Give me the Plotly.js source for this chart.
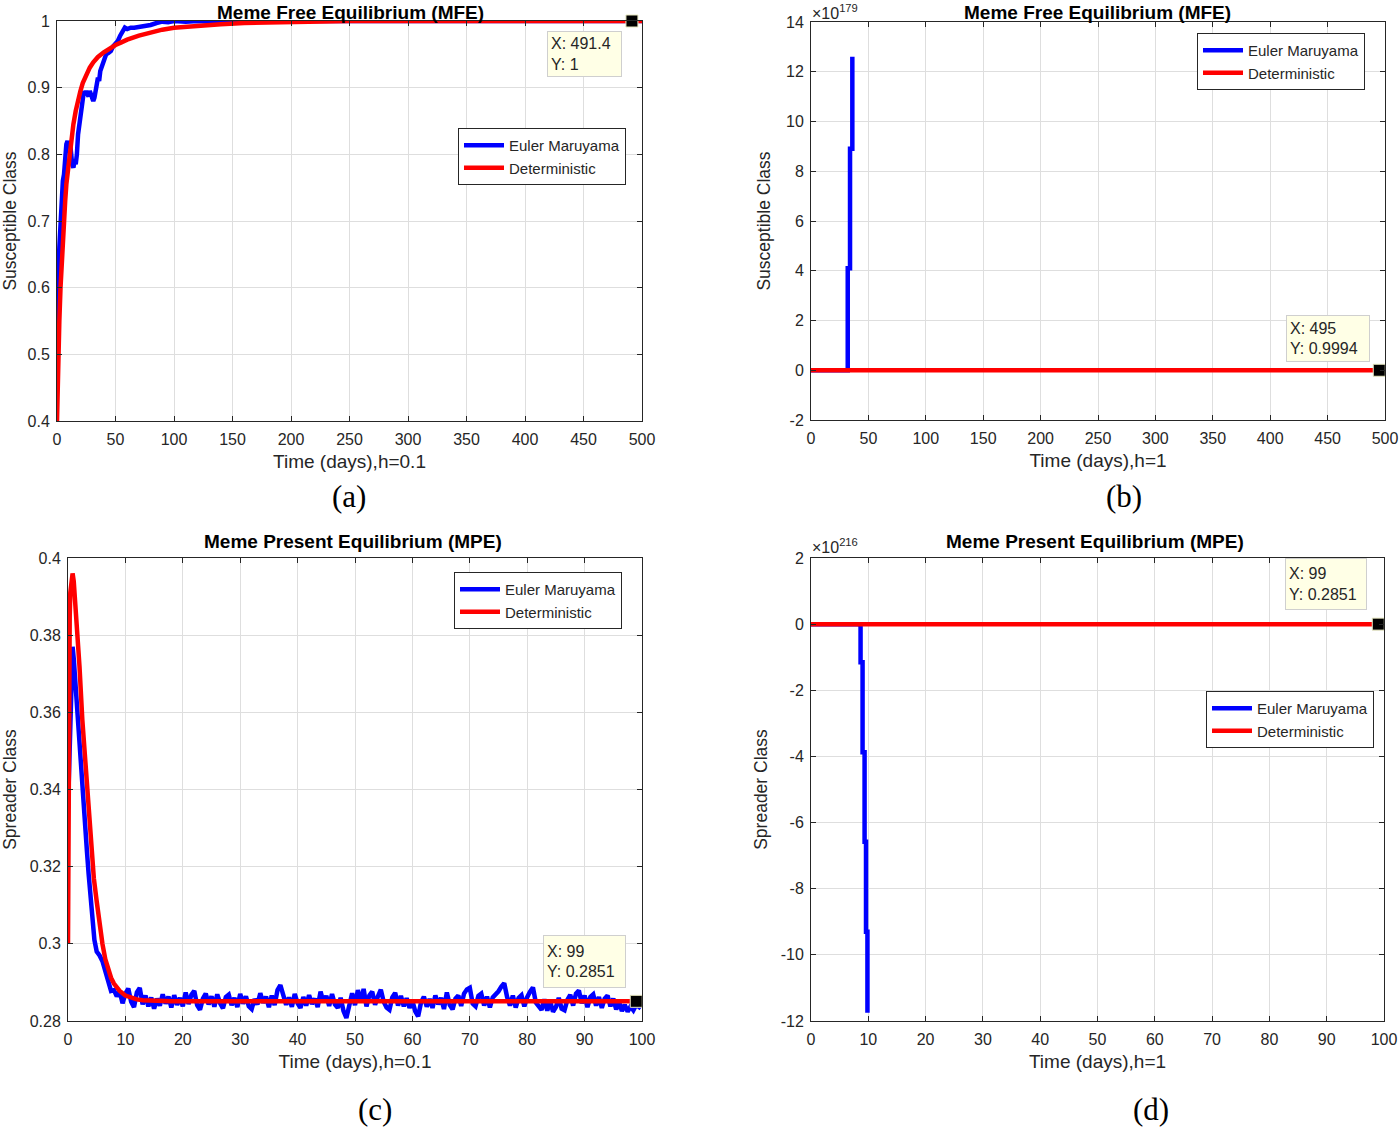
<!DOCTYPE html>
<html>
<head>
<meta charset="utf-8">
<script src="https://cdn.plot.ly/plotly-3.0.1.min.js"></script>
<style>
  html, body { margin: 0; padding: 0; background: #ffffff; }
  #chart { width: 1399px; height: 1128px; }
</style>
</head>
<body>
<div id="chart"></div>
<script>
// ---------------- DATA ----------------
// (a) Meme Free Equilibrium, h = 0.1 (Susceptible class)
const aTimeEM = [0, 0.3, 0.6, 1, 1.5, 2, 2.5, 3, 3.5, 4, 5, 6, 7, 8, 9, 10, 11, 12, 13, 14, 15, 16, 17, 18, 19, 20, 21, 22, 23, 24, 25, 26, 27, 28, 29, 30, 31, 32, 33, 34, 35, 36, 37, 38, 39, 40, 42, 44, 46, 48, 50, 52, 54, 56, 58, 60, 63, 66, 70, 75, 80, 85, 90, 95, 100, 110, 120, 130, 140, 150, 170, 200, 250, 300, 400, 500];
const aSusEM = [0.455, 0.52, 0.56, 0.6, 0.64, 0.66, 0.68, 0.70, 0.73, 0.74, 0.76, 0.77, 0.80, 0.815, 0.82, 0.81, 0.82, 0.80, 0.785, 0.78, 0.79, 0.785, 0.80, 0.83, 0.845, 0.86, 0.875, 0.89, 0.895, 0.89, 0.895, 0.89, 0.887, 0.895, 0.888, 0.882, 0.88, 0.885, 0.90, 0.905, 0.915, 0.91, 0.925, 0.93, 0.935, 0.945, 0.95, 0.952, 0.955, 0.962, 0.965, 0.97, 0.978, 0.985, 0.99, 0.988, 0.99, 0.99, 0.991, 0.992, 0.994, 0.997, 0.999, 0.998, 1.0, 0.999, 1.0, 0.999, 1.0, 1.0, 1.0, 1.0, 1.0, 1.0, 1.0, 1.0];
const aTimeDet = [0, 0.5, 1, 2, 3, 4, 5, 6, 7, 8, 10, 12, 14, 16, 18, 20, 22, 25, 28, 31, 35, 40, 45, 50, 55, 60, 70, 80, 90, 100, 120, 140, 160, 180, 200, 250, 300, 400, 500];
const aSusDet = [0.4, 0.46, 0.5, 0.55, 0.6, 0.64, 0.68, 0.71, 0.73, 0.755, 0.79, 0.82, 0.845, 0.865, 0.882, 0.895, 0.907, 0.92, 0.93, 0.938, 0.946, 0.953, 0.959, 0.964, 0.968, 0.972, 0.978, 0.983, 0.987, 0.99, 0.993, 0.995, 0.997, 0.998, 0.999, 1.0, 1.0, 1.0, 1.0];

// (b) Meme Free Equilibrium, h = 1 (Euler Maruyama blows up)
const bTimeEM = [0, 5, 10, 15, 20, 25, 30, 32, 34, 36];
const bSusEM = [0.45, 0.76, 0.81, 0.80, 0.86, 0.90, 0.88, 4.1e179, 8.9e179, 12.6e179];
const bTimeDet = [0, 5, 10, 20, 30, 50, 100, 200, 300, 495];
const bSusDet = [0.4, 0.68, 0.79, 0.895, 0.937, 0.964, 0.99, 0.999, 1.0, 0.9994];
const bExponent = 179;

// (c) Meme Present Equilibrium, h = 0.1 (Spreader class)
const cTimeEMStart = [0, 0.2, 0.4, 0.6, 0.8, 1.0, 1.3, 1.6, 2.0, 2.3, 2.6, 3.0, 3.3, 3.6, 4.0, 4.3, 4.6, 5.0, 5.5, 6.0, 6.5, 7.0, 7.5];
const cSprEMStart = [0.335, 0.345, 0.360, 0.371, 0.377, 0.374, 0.367, 0.361, 0.352, 0.345, 0.339, 0.330, 0.324, 0.318, 0.311, 0.305, 0.301, 0.298, 0.297, 0.2955, 0.293, 0.2895, 0.2878];
// steady-state fluctuation, sampled every 0.5 day from t = 8
const cNoiseStart = 8, cNoiseStep = 0.5;
const cSprEMNoise = [
  0.2880, 0.2864, 0.2877, 0.2846, 0.2871, 0.2884, 0.2850, 0.2836, 0.2874, 0.2886,
  0.2843, 0.2866, 0.2838, 0.2861, 0.2832, 0.2858, 0.2840, 0.2869, 0.2845, 0.2863,
  0.2835, 0.2867, 0.2842, 0.2860, 0.2838, 0.2874, 0.2844, 0.2868, 0.2878, 0.2841,
  0.2829, 0.2858, 0.2871, 0.2843, 0.2864, 0.2837, 0.2869, 0.2846, 0.2833, 0.2862,
  0.2868, 0.2841, 0.2860, 0.2836, 0.2870, 0.2845, 0.2864, 0.2838, 0.2831, 0.2857,
  0.2843, 0.2872, 0.2847, 0.2863, 0.2836, 0.2866, 0.2841, 0.2880, 0.2893, 0.2868,
  0.2842, 0.2861, 0.2837, 0.2870, 0.2846, 0.2834, 0.2862, 0.2840, 0.2867, 0.2844,
  0.2858, 0.2836, 0.2876, 0.2849, 0.2865, 0.2839, 0.2870, 0.2843, 0.2834, 0.2860,
  0.2826, 0.2808, 0.2846, 0.2872, 0.2841, 0.2880, 0.2848, 0.2883, 0.2838, 0.2866,
  0.2876, 0.2842, 0.2864, 0.2881, 0.2850, 0.2835, 0.2829, 0.2861, 0.2873, 0.2840,
  0.2865, 0.2838, 0.2859, 0.2834, 0.2852, 0.2825, 0.2812, 0.2848, 0.2863, 0.2837,
  0.2857, 0.2834, 0.2866, 0.2843, 0.2860, 0.2831, 0.2874, 0.2842, 0.2830, 0.2858,
  0.2866, 0.2839, 0.2871, 0.2882, 0.2886, 0.2845, 0.2838, 0.2865, 0.2871, 0.2840,
  0.2863, 0.2835, 0.2861, 0.2868, 0.2877, 0.2889, 0.2898, 0.2862, 0.2840, 0.2866,
  0.2835, 0.2860, 0.2867, 0.2838, 0.2862, 0.2876, 0.2887, 0.2848, 0.2838, 0.2829,
  0.2856, 0.2827, 0.2851, 0.2824, 0.2836, 0.2860, 0.2832, 0.2828, 0.2855, 0.2868,
  0.2840, 0.2871, 0.2879, 0.2846, 0.2866, 0.2836, 0.2862, 0.2869, 0.2840, 0.2862,
  0.2834, 0.2858, 0.2866, 0.2838, 0.2858, 0.2830, 0.2850, 0.2826, 0.2842, 0.2824,
  0.2838, 0.2828, 0.2842, 0.2836, 0.2846
];
const cTimeDet = [0, 0.1, 0.2, 0.3, 0.4, 0.6, 0.8, 1.0, 1.2, 1.5, 2, 2.5, 3, 3.5, 4, 4.5, 5, 5.5, 6, 6.5, 7, 7.5, 8, 9, 10, 11, 12, 13, 14, 15, 16, 18, 20, 30, 50, 70, 99];
const cSprDet = [0.300, 0.345, 0.372, 0.385, 0.391, 0.395, 0.396, 0.394, 0.390, 0.384, 0.372, 0.358, 0.347, 0.335, 0.325, 0.317, 0.311, 0.305, 0.300, 0.2960, 0.2932, 0.2912, 0.2897, 0.2878, 0.2866, 0.2860, 0.2856, 0.2854, 0.2853, 0.2852, 0.2851, 0.2851, 0.2851, 0.2851, 0.2851, 0.2851, 0.2851];

// (d) Meme Present Equilibrium, h = 1 (Euler Maruyama blows up)
const dTimeEM = [0, 2, 4, 6, 8, 8.65, 9.0, 9.35, 9.6, 9.85];
const dSprEM = [0.30, 0.39, 0.30, 0.28, 0.29, -1.15e216, -3.87e216, -6.58e216, -9.3e216, -11.75e216];
const dTimeDet = [0, 1, 2, 5, 10, 20, 50, 99];
const dSprDet = [0.3, 0.394, 0.372, 0.309, 0.2866, 0.2851, 0.2851, 0.2851];
const dExponent = 216;

// data tips
const tipX = [491.4, 495, 99, 99];
const tipY = [1, 0.9994, 0.2851, 0.2851];

// ticks
const xTicks500 = [0, 50, 100, 150, 200, 250, 300, 350, 400, 450, 500];
const xTicks100 = [0, 10, 20, 30, 40, 50, 60, 70, 80, 90, 100];
const aYTicks = [0.4, 0.5, 0.6, 0.7, 0.8, 0.9, 1];
const aYLabels = ['0.4', '0.5', '0.6', '0.7', '0.8', '0.9', '1'];
const bYTicks = [-2, 0, 2, 4, 6, 8, 10, 12, 14];
const bYLabels = ['-2', '0', '2', '4', '6', '8', '10', '12', '14'];
const cYTicks = [0.28, 0.3, 0.32, 0.34, 0.36, 0.38, 0.4];
const cYLabels = ['0.28', '0.3', '0.32', '0.34', '0.36', '0.38', '0.4'];
const dYTicks = [-12, -10, -8, -6, -4, -2, 0, 2];
const dYLabels = ['-12', '-10', '-8', '-6', '-4', '-2', '0', '2'];

const seriesNames = ['Euler Maruyama', 'Deterministic'];
const titles = ['Meme Free Equilibrium (MFE)', 'Meme Free Equilibrium (MFE)', 'Meme Present Equilibrium (MPE)', 'Meme Present Equilibrium (MPE)'];
const xTitles = ['Time (days),h=0.1', 'Time (days),h=1', 'Time (days),h=0.1', 'Time (days),h=1'];
const yTitles = ['Susceptible Class', 'Susceptible Class', 'Spreader Class', 'Spreader Class'];
const panelLabels = ['(a)', '(b)', '(c)', '(d)'];

// ---------------- BUILD ----------------
const W = 1399, H = 1128;
const px = p => p / W;
const py = p => 1 - p / H;

const cTimeEM = cTimeEMStart.concat(cSprEMNoise.map((_, i) => cNoiseStart + i * cNoiseStep));
const cSprEM = cSprEMStart.concat(cSprEMNoise);

const bScale = Math.pow(10, bExponent);
const dScale = Math.pow(10, dExponent);

const BLUE = '#0000ff', RED = '#ff0000';
const FONT = 'Liberation Sans, Arial, Helvetica, sans-serif';
const TXT = '#262626';

function lineTrace(x, y, color, name, idx, legendId, shape) {
  return {
    type: 'scatter', mode: 'lines', x: x, y: y, name: name,
    line: { color: color, width: 4.5, shape: shape || 'linear' },
    xaxis: idx === 1 ? 'x' : 'x' + idx, yaxis: idx === 1 ? 'y' : 'y' + idx,
    legend: legendId, showlegend: true, hoverinfo: 'skip'
  };
}
function tipTrace(i, yv) {
  const idx = i + 1;
  return {
    type: 'scatter', mode: 'markers', x: [tipX[i]], y: [yv],
    marker: { symbol: 'square', size: 12, color: '#000000', line: { color: '#e8e8c0', width: 1 } },
    xaxis: idx === 1 ? 'x' : 'x' + idx, yaxis: idx === 1 ? 'y' : 'y' + idx,
    showlegend: false, cliponaxis: false, hoverinfo: 'skip'
  };
}

const traces = [
  lineTrace(aTimeEM, aSusEM, BLUE, seriesNames[0], 1, 'legend'),
  lineTrace(aTimeDet, aSusDet, RED, seriesNames[1], 1, 'legend'),
  lineTrace(bTimeEM, bSusEM.map(v => v / bScale), BLUE, seriesNames[0], 2, 'legend2', 'hv'),
  lineTrace(bTimeDet, bSusDet.map(v => v / bScale), RED, seriesNames[1], 2, 'legend2'),
  lineTrace(cTimeEM, cSprEM, BLUE, seriesNames[0], 3, 'legend3'),
  lineTrace(cTimeDet, cSprDet, RED, seriesNames[1], 3, 'legend3'),
  lineTrace(dTimeEM, dSprEM.map(v => v / dScale), BLUE, seriesNames[0], 4, 'legend4', 'hv'),
  lineTrace(dTimeDet, dSprDet.map(v => v / dScale), RED, seriesNames[1], 4, 'legend4'),
  tipTrace(0, tipY[0]),
  tipTrace(1, tipY[1] / bScale),
  tipTrace(2, tipY[2]),
  tipTrace(3, tipY[3] / dScale)
];

function axisBase(extra) {
  return Object.assign({
    showline: true, linecolor: TXT, linewidth: 1, mirror: 'ticks',
    ticks: 'inside', ticklen: 5, tickwidth: 1, tickcolor: TXT,
    showgrid: true, gridcolor: '#dedede', gridwidth: 1, zeroline: false,
    tickfont: { family: FONT, size: 16, color: TXT },
    fixedrange: true, automargin: false
  }, extra);
}
function xAx(domain, anchor, range, ticks, title, standoff) {
  return axisBase({ domain: domain, anchor: anchor, range: range, tickmode: 'array', tickvals: ticks, ticktext: ticks.map(String),
    ticklabelstandoff: 4,
    title: { text: title, font: { family: FONT, size: 19, color: TXT }, standoff: standoff } });
}
function yAx(domain, anchor, range, ticks, labels, title, standoff) {
  return axisBase({ domain: domain, anchor: anchor, range: range, tickmode: 'array', tickvals: ticks, ticktext: labels,
    ticklabelstandoff: 3,
    title: { text: title, font: { family: FONT, size: 17.5, color: TXT }, standoff: standoff } });
}

const dom = {
  a: { x: [px(57), px(642)], y: [py(421), py(21)] },
  b: { x: [px(811), px(1385)], y: [py(420), py(22)] },
  c: { x: [px(68), px(642)], y: [py(1021), py(558)] },
  d: { x: [px(811), px(1384)], y: [py(1021), py(558)] }
};

function legendAt(left, top) {
  return { x: px(left), y: py(top), xanchor: 'left', yanchor: 'top', bgcolor: '#ffffff',
    bordercolor: TXT, borderwidth: 1, font: { family: FONT, size: 15, color: TXT },
    tracegroupgap: 0, itemwidth: 40 };
}
function tipAnn(left, top, w, h, i) {
  return { xref: 'paper', yref: 'paper', x: px(left), y: py(top), xanchor: 'left', yanchor: 'top',
    width: w - 8, height: h - 8, valign: 'middle',
    text: 'X: ' + tipX[i] + '<br>Y: ' + tipY[i], showarrow: false, align: 'left',
    bgcolor: '#ffffe6', bordercolor: '#cfcfcf', borderwidth: 1, borderpad: 3,
    font: { family: FONT, size: 16, color: TXT } };
}
function titleAnn(cx, cy, i, anchor) {
  return { xref: 'paper', yref: 'paper', x: px(cx), y: py(cy), xanchor: 'center', yanchor: anchor || 'middle',
    text: '<b>' + titles[i] + '</b>', showarrow: false, font: { family: FONT, size: 19, color: '#000000' } };
}
function panelAnn(cx, cy, i) {
  return { xref: 'paper', yref: 'paper', x: px(cx), y: py(cy), xanchor: 'center', yanchor: 'middle',
    text: panelLabels[i], showarrow: false, font: { family: 'Liberation Serif, Times New Roman, serif', size: 31, color: '#000000' } };
}
function expAnn(left, top, e) {
  return { xref: 'paper', yref: 'paper', x: px(left), y: py(top), xanchor: 'left', yanchor: 'top',
    text: '×10<sup>' + e + '</sup>', showarrow: false, font: { family: FONT, size: 16, color: TXT } };
}

const layout = {
  width: W, height: H, paper_bgcolor: '#ffffff', plot_bgcolor: '#ffffff',
  margin: { l: 0, r: 0, t: 0, b: 0 }, showlegend: true,
  font: { family: FONT, color: TXT },
  xaxis:  xAx(dom.a.x, 'y',  [0, 500], xTicks500, xTitles[0], 7),
  yaxis:  yAx(dom.a.y, 'x',  [0.4, 1], aYTicks, aYLabels, yTitles[0], 6),
  xaxis2: xAx(dom.b.x, 'y2', [0, 500], xTicks500, xTitles[1], 7),
  yaxis2: yAx(dom.b.y, 'x2', [-2, 14], bYTicks, bYLabels, yTitles[1], 10),
  xaxis3: xAx(dom.c.x, 'y3', [0, 100], xTicks100, xTitles[2], 7),
  yaxis3: yAx(dom.c.y, 'x3', [0.28, 0.4], cYTicks, cYLabels, yTitles[2], 10),
  xaxis4: xAx(dom.d.x, 'y4', [0, 100], xTicks100, xTitles[3], 7),
  yaxis4: yAx(dom.d.y, 'x4', [-12, 2], dYTicks, dYLabels, yTitles[3], 8),
  legend: legendAt(458, 128),
  legend2: legendAt(1197, 33),
  legend3: legendAt(454, 572),
  legend4: legendAt(1206, 691),
  annotations: [
    titleAnn(350, 0, 0, 'top'), titleAnn(1097, 0, 1, 'top'), titleAnn(353, 541, 2), titleAnn(1095, 541, 3),
    tipAnn(547, 31, 75, 46, 0), tipAnn(1286, 315, 84, 47, 1), tipAnn(543, 935, 83, 53, 2), tipAnn(1285, 558, 82, 52, 3),
    expAnn(810, 0, bExponent), expAnn(810, 534, dExponent),
    panelAnn(349, 497, 0), panelAnn(1124, 497, 1), panelAnn(375, 1109, 2), panelAnn(1151, 1109, 3)
  ]
};

Plotly.newPlot('chart', traces, layout, { displayModeBar: false, staticPlot: true });
</script>
</body>
</html>
